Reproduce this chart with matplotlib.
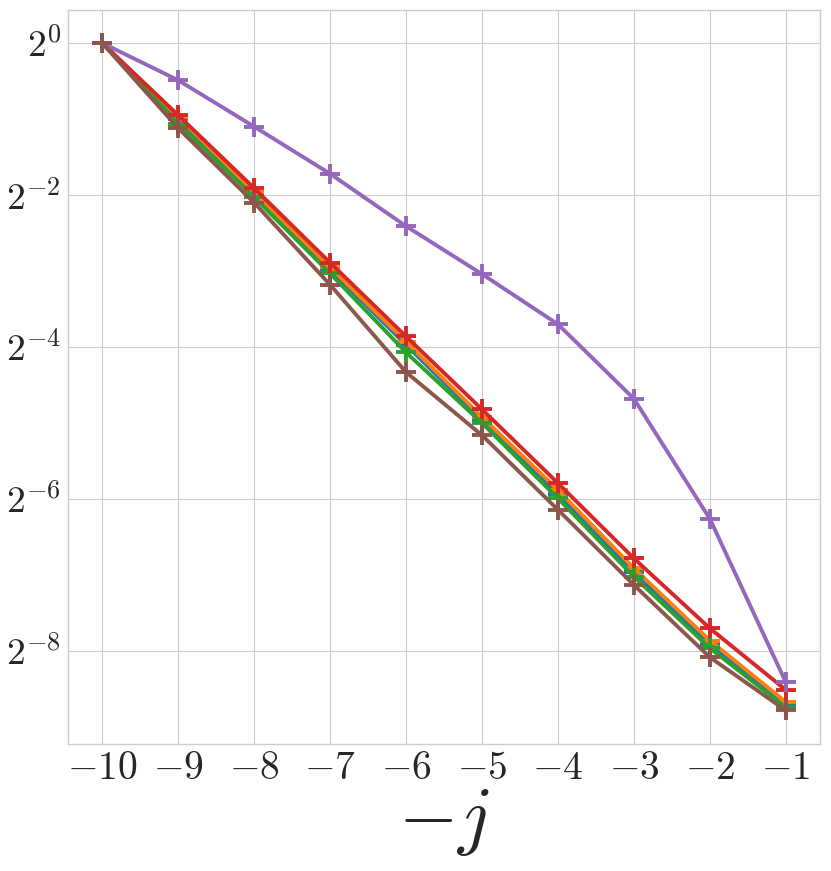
import numpy as np
import matplotlib
matplotlib.use('Agg')
import matplotlib.pyplot as plt
import matplotlib.ticker as mticker

plt.style.use('seaborn-v0_8-whitegrid')
plt.rcParams['mathtext.fontset'] = 'cm'
plt.rcParams['axes.edgecolor'] = '.8'
plt.rcParams['grid.color'] = '.8'

# x positions (-j) and log2 of the plotted values
neg_j = [-10, -9, -8, -7, -6, -5, -4, -3, -2, -1]
log2_blue = [0, -1.00, -1.99, -2.98, -3.97, -4.96, -5.93, -6.96, -7.91, -8.70]
log2_orange = [0, -0.97, -1.96, -2.95, -3.93, -4.92, -5.88, -6.91, -7.86, -8.67]
log2_green = [0, -1.06, -2.03, -3.03, -4.07, -5.00, -5.99, -7.02, -7.96, -8.74]
log2_red = [0, -0.95, -1.91, -2.89, -3.86, -4.82, -5.79, -6.78, -7.70, -8.51]
log2_purple = [0, -0.49, -1.10, -1.72, -2.41, -3.04, -3.70, -4.68, -6.26, -8.41]
log2_brown = [0, -1.12, -2.10, -3.18, -4.33, -5.16, -6.14, -7.13, -8.08, -8.78]

x_ticks = neg_j
y_tick_exps = [0, -2, -4, -6, -8]

series = [
    (log2_blue, 'tab:blue'),
    (log2_orange, 'tab:orange'),
    (log2_green, 'tab:green'),
    (log2_red, 'tab:red'),
    (log2_purple, 'tab:purple'),
    (log2_brown, 'tab:brown'),
]

fig = plt.figure(figsize=(8.31, 8.71), dpi=100)
ax = fig.add_axes([0.0818, 0.146, 0.905, 0.843])

for vals, color in series:
    ax.plot(neg_j, 2.0 ** np.array(vals), color=color, lw=2.8,
            marker='+', markersize=14, markeredgewidth=2.8)

ax.set_yscale('log', base=2)
ax.set_yticks([2.0 ** e for e in y_tick_exps])
ax.yaxis.set_minor_locator(mticker.NullLocator())
ax.yaxis.set_major_formatter(mticker.FuncFormatter(
    lambda v, _: r'$2^{%d}$' % round(np.log2(v))))
ax.set_xticks(x_ticks)
ax.xaxis.set_major_formatter(mticker.FuncFormatter(lambda v, _: r'$%d$' % v))
ax.tick_params(axis='x', labelsize=28.5, colors='.15', pad=4)
ax.tick_params(axis='y', labelsize=27, colors='.15', pad=5)
ax.set_xlabel(r'$-j$', fontsize=55, labelpad=0)

for sp in ax.spines.values():
    sp.set_visible(True)
    sp.set_color('.8')

fig.savefig('out.png', dpi=100)
